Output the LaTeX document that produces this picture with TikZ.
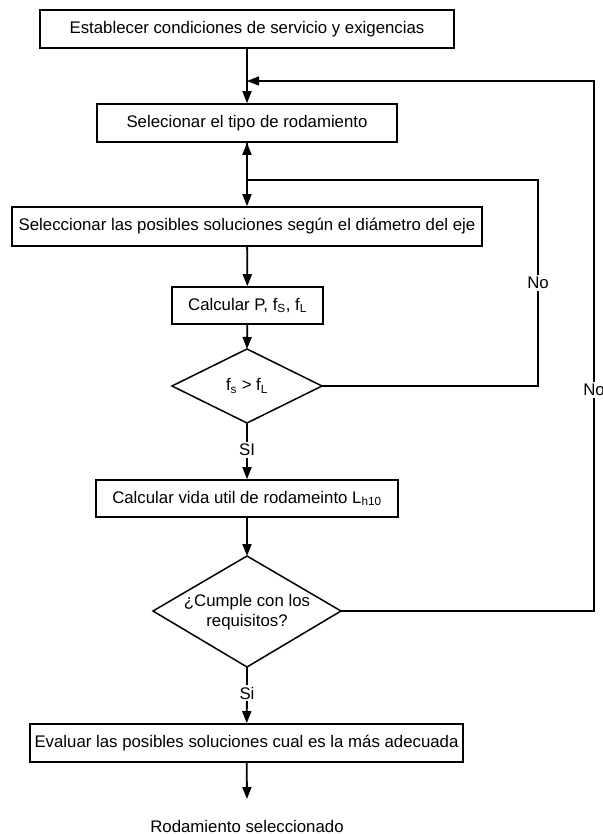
\documentclass[tikz,border=0pt]{standalone}
\usepackage{fontspec}
\setmainfont{Liberation Sans}
\usetikzlibrary{arrows.meta,shapes.geometric}
\begin{document}
\begin{tikzpicture}[x=1pt,y=-1pt,
  font=\fontsize{16.8}{19.5}\selectfont,
  box/.style={draw,line width=1.6pt,rectangle,inner sep=0pt,align=center},
  flow/.style={line width=1.8pt,-{Triangle[length=12pt,width=9pt]}},
  loopline/.style={line width=1.3pt},
  lbl/.style={fill=white,inner sep=1.5pt}]
\useasboundingbox (0,0) rectangle (602,834);
\node[box,minimum width=414pt,minimum height=38pt] (b1) at (247,29) {Establecer condiciones de servicio y exigencias};
\node[box,minimum width=300pt,minimum height=38pt] (b2) at (247,123) {Selecionar el tipo de rodamiento};
\node[box,minimum width=470pt,minimum height=39pt] (b3) at (247,226.5) {Seleccionar las posibles soluciones según el diámetro del eje};
\node[box,minimum width=151pt,minimum height=37pt] (b4) at (247.5,305.5) {Calcular P, f\textsubscript{S}, f\textsubscript{L}};
\draw[line width=1.5pt] (172,386) -- (247,349) -- (322,386) -- (247,423) -- cycle;
\node (d1) at (247,386) {f\textsubscript{s} > f\textsubscript{L}};
\coordinate (d1n) at (247,349);
\coordinate (d1s) at (247,423);
\coordinate (d1e) at (322,386);
\node[box,minimum width=302pt,minimum height=37pt] (b5) at (247,498.5) {Calcular vida util de rodameinto L\textsubscript{h10}};
\draw[line width=1.5pt] (153,611) -- (247,556) -- (341,611) -- (247,667) -- cycle;
\node[align=center] (d2) at (247,612) {¿Cumple con los\\requisitos?};
\coordinate (d2n) at (247,556);
\coordinate (d2s) at (247,667);
\coordinate (d2e) at (341,611);
\node[box,minimum width=433pt,minimum height=38pt] (b6) at (246.5,743) {Evaluar las posibles soluciones cual es la más adecuada};
\node (res) at (247,826) {Rodamiento seleccionado};
\coordinate (endtip) at (247,799);
\coordinate (j1) at (247,81);
\coordinate (j2) at (247,180);
\node[lbl] (si1) at (247,450) {SI};
\node[lbl] (si2) at (247,693) {Si};
\node[lbl] (no1) at (538,283) {No};
\node[lbl] (no2) at (594,390) {No};
% main flow
\draw[flow] (b1) -- (b2);
\draw[flow] (b2) -- (b3);
\draw[flow] (b3) -- (b4);
\draw[flow] (b4) -- (d1n);
\draw[line width=1.3pt] (d1s) -- (si1);
\draw[flow] (si1) -- (b5);
\draw[flow] (b5) -- (d2n);
\draw[line width=1.3pt] (d2s) -- (si2);
\draw[flow] (si2) -- (b6);
\draw[flow] (b6) -- (endtip);
% loops
\draw[loopline] (d1e) -| (no1);
\draw[loopline] (no1) |- (j2);
\draw[flow] (j2) -- (b2);
\draw[loopline] (d2e) -| (no2);
\draw[loopline,-{Triangle[length=12pt,width=9pt]}] (no2) |- (j1);
\end{tikzpicture}
\end{document}
